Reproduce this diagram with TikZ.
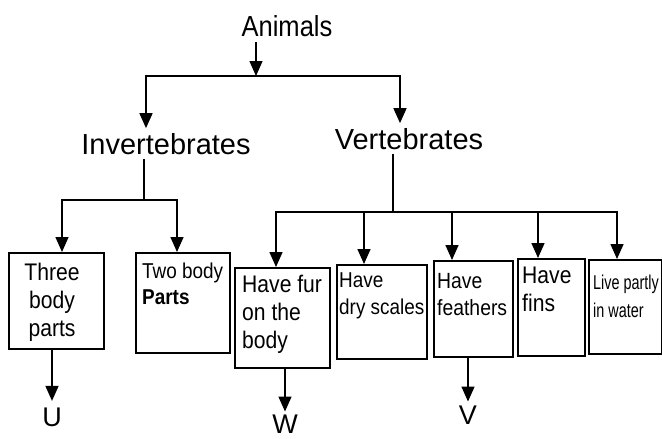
\documentclass[tikz,border=0pt]{standalone}
\usepackage{fontspec}
\setmainfont{Liberation Sans}
\newfontfamily\condfont[FakeStretch=0.88]{Liberation Sans}
\newfontfamily\narrowfont[FakeStretch=0.72]{Liberation Sans}
\usetikzlibrary{arrows.meta}

\begin{document}
\begin{tikzpicture}[x=1pt,y=-1pt,
    line/.style={line width=1.5pt,line cap=rect},
    arr/.style={line width=1.5pt,-{Triangle[length=15pt,width=13pt]}},
    box/.style={draw,line width=1.6pt,inner sep=0pt,anchor=north west},
    boxtext/.style={inner sep=0pt,anchor=north west,align=left,font=\condfont\fontsize{24}{28}\selectfont},
    head/.style={inner sep=5pt,font=\fontsize{29}{34}\selectfont},
    letter/.style={inner sep=1pt,font=\fontsize{27}{32}\selectfont}]
    \useasboundingbox (0,0) rectangle (662,439);
    %Animals
    \node[head,font=\condfont\fontsize{29}{34}\selectfont] (animals) at (287,26) {Animals};
    \node[head] (invert) at (166,144) {Invertebrates};
    \node[head] (vert) at (409,139) {Vertebrates};
    \coordinate (abar) at (256,76);
    \coordinate (topinvert) at (146,76);
    \coordinate (topvert) at (400,76);
    \draw[arr] (animals.south -| abar) -- (abar);
    \draw[line] (topinvert) -- (topvert);
    \foreach \b in {invert,vert}
    \draw[arr] (top\b) -- (top\b |- \b.north);
    %Invertebrates
    \node[box,minimum width=95pt,minimum height=96pt] (three) at (8,252) {};
    \node[box,minimum width=94pt,minimum height=100pt] (two) at (135,252) {};
    \node[boxtext,anchor=north,align=center] (threetxt) at (52,263) {Three\\body\\parts};
    \node[boxtext,font=\condfont\fontsize{21.5}{26}\selectfont] (twotxt) at (142,263) {Two body\\\textbf{Parts}};
    \coordinate (ibar) at (144,200);
    \coordinate (topthree) at (62,200);
    \coordinate (toptwo) at (177,200);
    \draw[line] (invert.south -| ibar) -- (ibar);
    \draw[line] (topthree) -- (toptwo);
    \foreach \b in {three,two}
    \draw[arr] (top\b) -- (top\b |- \b.north);
    %Vertebrates
    \node[box,minimum width=95pt,minimum height=100pt] (fur) at (234,267) {};
    \node[box,minimum width=90pt,minimum height=94pt] (scales) at (336,264) {};
    \node[box,minimum width=79pt,minimum height=96pt] (feathers) at (433,260) {};
    \node[box,minimum width=67pt,minimum height=97pt] (fins) at (517,258) {};
    \node[box,minimum width=73pt,minimum height=94pt] (live) at (588,259) {};
    \node[boxtext] (furtxt) at (242,275) {Have fur\\on the\\body};
    \node[boxtext,font=\condfont\fontsize{21.5}{27}\selectfont] (scalestxt) at (339,273) {Have\\dry scales};
    \node[boxtext,font=\condfont\fontsize{22}{27}\selectfont] (featherstxt) at (437,273) {Have\\feathers};
    \node[boxtext] (finstxt) at (522,267) {Have\\fins};
    \node[boxtext,font=\narrowfont\fontsize{20}{28}\selectfont] (livetxt) at (593,275) {Live partly\\in water};
    \coordinate (vbar) at (393,212);
    \draw[line] (vert.south -| vbar) -- (vbar);
    \foreach \x/\b in {276/fur,364/scales,452/feathers,538/fins,617/live}
    \coordinate (top\b) at (\x,212);
    \draw[line] (topfur) -- (toplive);
    \foreach \b in {fur,scales,feathers,fins,live}
    \draw[arr] (top\b) -- (top\b |- \b.north);
    %U, W, V
    \node[letter] (u) at (52,417.5) {U};
    \node[letter] (w) at (285,424) {W};
    \node[letter] (v) at (468,415) {V};
    \draw[arr,shorten >=6pt] (u |- three.south) -- (u.north);
    \draw[arr,shorten >=2pt] (w |- fur.south) -- (w.north);
    \draw[arr,shorten >=3pt] (v |- feathers.south) -- (v.north);
\end{tikzpicture}
\end{document}
